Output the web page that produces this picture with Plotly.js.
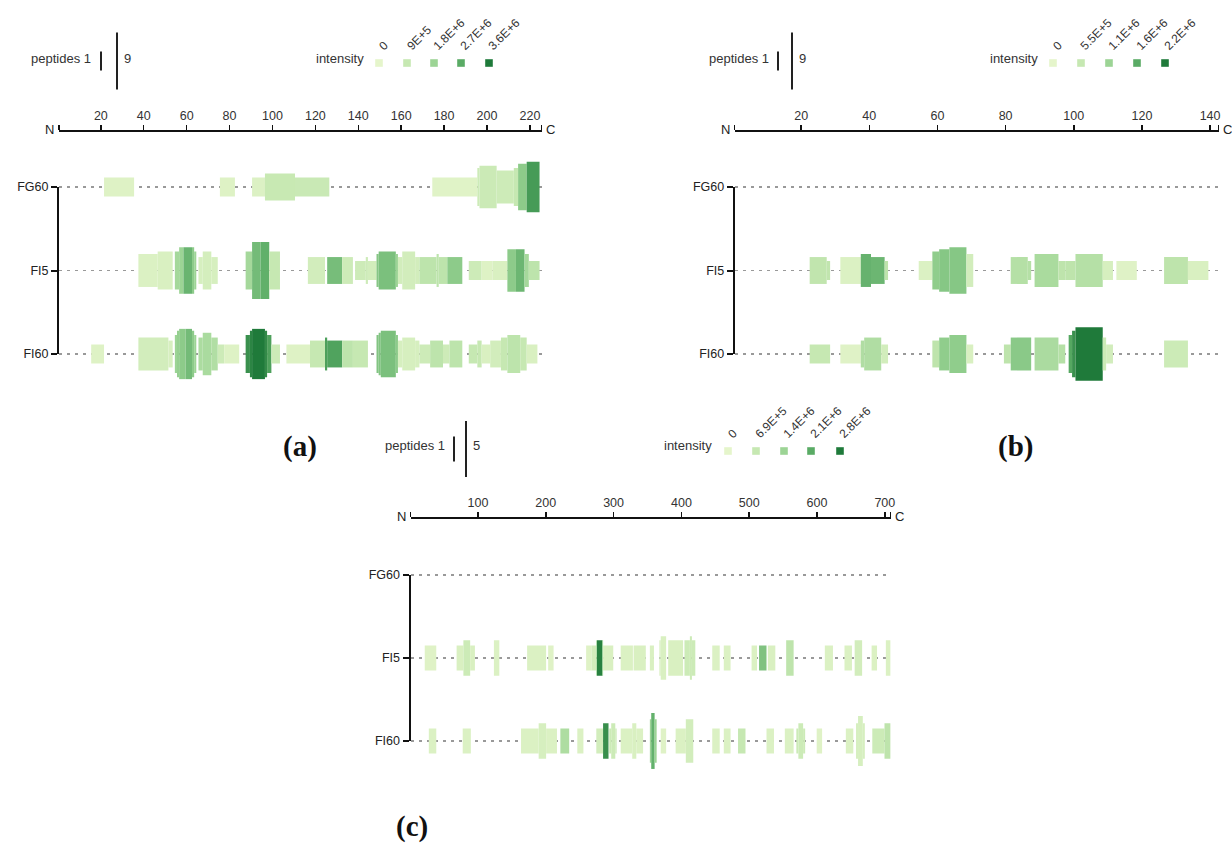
<!DOCTYPE html>
<html><head><meta charset="utf-8">
<script src="https://cdn.plot.ly/plotly-3.0.1.min.js"></script>
<style>html,body{margin:0;padding:0;background:#fff}</style>
</head><body><div id="chart" style="width:1232px;height:843px"></div>
<script>
// ---------------- DATA ----------------
const rows = ['FG60', 'FI5', 'FI60'];

// Panel (a)
const lenA = 225;
const ticksA = [20, 40, 60, 80, 100, 120, 140, 160, 180, 200, 220];
const pepA = [1, 9];
const intValsA = [0, 9e5, 1.8e6, 2.7e6, 3.6e6];
const intLabelsA = ['0', '9E+5', '1.8E+6', '2.7E+6', '3.6E+6'];
// segments: [start residue, end residue, peptides, intensity]
const a_FG60 = [
  [22,35,1,0.2e6],[76,82,1,0.2e6],[91,96,1,0.25e6],[97,110,2,0.85e6],[111,126,1,0.8e6],
  [175,195,1,0.15e6],[196,196,4,0.7e6],[197,204,5,0.75e6],[205,212,3,0.7e6],[213,214,4,0.9e6],
  [215,218,6,2.0e6],[219,224,7,3.0e6]
];
const a_FI5 = [
  [38,46,3,0.3e6],[47,53,4,0.35e6],[55,56,4,1.6e6],[57,58,6,1.8e6],[59,62,6,2.5e6],[63,63,6,2.0e6],
  [64,64,4,1.8e6],[66,67,2,0.45e6],[68,71,4,0.5e6],[72,74,2,0.45e6],[88,90,4,1.6e6],[91,94,9,2.35e6],
  [95,98,9,2.6e6],[99,103,4,0.9e6],[117,124,2,0.55e6],[126,132,2,2.3e6],[133,137,2,0.7e6],
  [139,143,1,0.7e6],[144,144,2,0.7e6],[145,148,1,0.55e6],[149,149,3,2.1e6],[150,157,4,2.25e6],
  [158,158,3,1.8e6],[159,160,2,0.55e6],[161,166,4,0.55e6],[167,168,2,0.55e6],[169,176,2,1.1e6],
  [177,177,3,1.1e6],[178,181,2,1.1e6],[182,188,2,2.0e6],[192,197,1,0.7e6],[198,202,1,0.2e6],
  [203,209,1,0.35e6],[210,213,5,2.0e6],[214,217,5,2.45e6],[218,219,3,1.6e6],[220,224,1,1.1e6]
];
const a_FI60 = [
  [16,21,1,0.2e6],[38,51,3,0.55e6],[52,53,2,0.4e6],[55,55,4,1.8e6],[56,56,6,1.9e6],[57,59,7,2.0e6],
  [60,62,7,2.35e6],[63,63,6,2.0e6],[64,64,4,1.8e6],[66,67,3,1.45e6],[68,71,5,1.5e6],[72,74,3,1.35e6],
  [75,77,1,0.7e6],[78,84,1,0.2e6],[88,89,4,3.2e6],[90,90,6,3.4e6],[91,96,7,3.6e6],[97,97,6,3.3e6],
  [98,99,4,2.9e6],[100,103,1,0.7e6],[107,117,1,0.2e6],[118,124,2,0.9e6],[125,125,3,2.9e6],
  [126,132,2,2.85e6],[133,137,2,1.1e6],[138,144,2,0.9e6],[149,149,4,2.15e6],[150,150,5,2.15e6],
  [151,157,6,2.25e6],[158,158,4,2.0e6],[159,160,2,0.45e6],[161,166,3,0.45e6],[167,168,2,0.45e6],
  [169,173,1,0.7e6],[174,179,2,1.1e6],[180,182,1,0.7e6],[183,188,2,1.1e6],[192,195,1,0.9e6],
  [196,197,2,0.9e6],[198,201,1,0.35e6],[202,206,2,0.55e6],[207,209,3,0.9e6],[210,215,4,1.1e6],
  [216,218,3,0.9e6],[219,223,1,0.35e6]
];

// Panel (b)
const lenB = 142;
const ticksB = [20, 40, 60, 80, 100, 120, 140];
const pepB = [1, 9];
const intValsB = [0, 5.5e5, 1.1e6, 1.6e6, 2.2e6];
const intLabelsB = ['0', '5.5E+5', '1.1E+6', '1.6E+6', '2.2E+6'];
const b_FG60 = [];
const b_FI5 = [
  [23,27,2,0.62e6],[28,28,1,0.62e6],[32,37,2,0.18e6],[38,40,3,1.55e6],[41,44,2,1.5e6],[45,45,1,0.66e6],
  [55,58,1,0.18e6],[59,60,4,1.2e6],[61,63,5,1.28e6],[64,68,6,1.28e6],[69,70,3,0.33e6],
  [82,86,2,0.77e6],[87,87,1,0.77e6],[89,95,3,0.92e6],[96,97,1,0.66e6],[98,100,1,0.66e6],
  [101,108,3,0.77e6],[109,111,1,0.26e6],[113,118,1,0.11e6],[127,133,2,0.66e6],[134,139,1,0.22e6]
];
const b_FI60 = [
  [23,28,1,0.55e6],[32,37,1,0.11e6],[38,38,2,0.84e6],[39,43,3,0.84e6],[44,45,1,0.33e6],
  [59,60,2,0.66e6],[61,63,3,1.2e6],[64,68,4,1.2e6],[69,70,1,0.22e6],[80,81,1,0.66e6],
  [82,87,3,1.25e6],[89,95,3,0.9e6],[96,97,1,0.77e6],[99,99,4,1.7e6],[100,100,6,1.95e6],
  [101,108,8,2.2e6],[109,109,3,0.44e6],[110,111,1,0.33e6],[127,133,2,0.44e6]
];

// Panel (c)
const lenC = 708;
const ticksC = [100, 200, 300, 400, 500, 600, 700];
const pepC = [1, 5];
const intValsC = [0, 6.9e5, 1.4e6, 2.1e6, 2.8e6];
const intLabelsC = ['0', '6.9E+5', '1.4E+6', '2.1E+6', '2.8E+6'];
const c_FG60 = [];
const c_FI5 = [
  [22,38,1,0.14e6],[69,78,1,0.28e6],[79,88,2,0.56e6],[89,95,1,0.28e6],[124,131,2,0.22e6],
  [173,200,1,0.22e6],[204,211,1,0.14e6],[260,267,1,0.14e6],[268,274,1,0.42e6],[275,275,2,1.4e6],
  [276,283,2,2.7e6],[284,284,2,1.4e6],[285,299,1,0.28e6],[311,328,1,0.22e6],[330,347,1,0.28e6],
  [354,359,1,0.28e6],[368,369,2,0.28e6],[370,377,3,0.28e6],[381,402,2,0.28e6],[405,412,2,0.56e6],
  [413,415,3,0.56e6],[416,420,2,0.56e6],[446,456,1,0.22e6],[463,472,1,0.22e6],[504,511,1,0.22e6],
  [515,525,1,1.7e6],[528,538,1,0.28e6],[555,565,2,0.84e6],[612,623,1,0.22e6],[641,651,1,0.22e6],
  [656,666,2,0.42e6],[681,688,1,0.22e6],[702,708,2,0.22e6]
];
const c_FI60 = [
  [28,38,1,0.22e6],[78,89,1,0.22e6],[164,189,1,0.22e6],[190,200,2,0.34e6],[201,216,1,0.22e6],
  [222,234,1,1.1e6],[247,255,1,0.22e6],[275,284,1,0.42e6],[285,292,2,2.5e6],[294,296,1,0.56e6],
  [297,302,2,0.56e6],[303,304,1,0.56e6],[311,327,1,0.22e6],[328,333,2,0.28e6],[334,343,1,0.22e6],
  [354,355,3,1.4e6],[356,360,5,2.0e6],[361,363,3,1.4e6],[370,377,1,0.14e6],[392,406,1,0.22e6],
  [407,417,3,0.42e6],[446,456,1,0.22e6],[463,472,1,0.22e6],[484,494,1,0.7e6],[526,536,1,0.22e6],
  [553,565,1,0.22e6],[570,572,1,0.56e6],[573,579,2,0.56e6],[580,582,1,0.56e6],[600,607,1,0.14e6],
  [643,653,1,0.22e6],[658,660,2,0.34e6],[661,667,4,0.34e6],[668,670,2,0.34e6],[682,699,1,0.56e6],
  [700,708,2,0.84e6]
];

// ---------------- STYLE / LAYOUT ----------------
const W = 1232, H = 843;
const FONT = 'Liberation Sans, Arial, sans-serif';
const colorscale = [[0,'#e5f5cb'],[0.25,'#c6e8b2'],[0.5,'#9cd495'],[0.75,'#5aab65'],[1,'#1f7a3a']];
const P = x => x / W, Q = y => 1 - y / H;

const panels = [
  {label:'(a)', len:lenA, ticks:ticksA, pep:pepA, iv:intValsA, il:intLabelsA, data:[a_FG60,a_FI5,a_FI60],
   x0:59.0, x1:541.7, axisY:130, rowTop:187, rowBot:354, k:19,
   pepRight:93, pepBars:[101,117], pepY:61, intRight:366, intY:58, swX:[379,407,434,461,489], swY:63, lab:[300,447]},
  {label:'(b)', len:lenB, ticks:ticksB, pep:pepB, iv:intValsB, il:intLabelsB, data:[b_FG60,b_FI5,b_FI60],
   x0:734.7, x1:1218.6, axisY:130, rowTop:187, rowBot:354, k:19,
   pepRight:771, pepBars:[778,792], pepY:61, intRight:1040, intY:58, swX:[1053,1081,1109,1137,1165], swY:63, lab:[1015,447]},
  {label:'(c)', len:lenC, ticks:ticksC, pep:pepC, iv:intValsC, il:intLabelsC, data:[c_FG60,c_FI5,c_FI60],
   x0:410.5, x1:890.6, axisY:517, rowTop:575, rowBot:741, k:25,
   pepRight:447, pepBars:[454,466], pepY:449, intRight:714, intY:446, swX:[728,756,784,811,840], swY:451, lab:[412,826]}
];

const traces = [], shapes = [], annotations = [];
const layout = {
  width: W, height: H, margin: {l:0, r:0, t:0, b:0},
  paper_bgcolor: '#ffffff', plot_bgcolor: 'rgba(0,0,0,0)',
  showlegend: false, barmode: 'overlay', font: {family: FONT, size: 12, color: '#333'},
  shapes, annotations
};

panels.forEach((p, i) => {
  const xn = i + 1, yb = 2 * i + 1, yr = 2 * i + 2;
  const xid = xn === 1 ? 'x' : 'x' + xn;
  const ybid = 'y' + (yb === 1 ? '' : yb), yrid = 'y' + yr;
  const sp = (p.rowBot - p.rowTop) / 2;      // px per row unit
  const ext = 48;                              // px margin around rows for bars
  const rowPos = [2, 1, 0];
  const hUnits = n => p.k * Math.sqrt(n) / sp;

  layout['xaxis' + (xn === 1 ? '' : xn)] = {
    domain: [P(p.x0), P(p.x1)], range: [0.5, p.len + 0.5], anchor: 'free', position: Q(p.axisY),
    side: 'top', showline: true, linecolor: '#111', linewidth: 1.5,
    ticks: 'outside', ticklen: 5, tickwidth: 1.5, tickcolor: '#111',
    tickmode: 'array', tickvals: [0.5].concat(p.ticks, [p.len + 0.5]),
    ticktext: [''].concat(p.ticks.map(String), ['']),
    tickfont: {size: 12.5, color: '#333', family: FONT}, showgrid: false, zeroline: false, fixedrange: true
  };
  layout['yaxis' + (yb === 1 ? '' : yb)] = {
    domain: [Q(p.rowBot), Q(p.rowTop)], range: [0, 2], anchor: xid, side: 'left',
    showline: true, linecolor: '#111', linewidth: 2, ticks: 'outside', ticklen: 6, tickwidth: 2,
    tickcolor: '#111', tickmode: 'array', tickvals: rowPos, ticktext: rows,
    tickfont: {size: 12.5, color: '#222', family: FONT}, showgrid: false, zeroline: false, fixedrange: true
  };
  layout['yaxis' + yr] = {
    domain: [Q(p.rowBot + ext), Q(p.rowTop - ext)], range: [-ext / sp, 2 + ext / sp], anchor: xid,
    showline: false, ticks: '', showticklabels: false, tickmode: 'array', tickvals: rowPos,
    showgrid: true, gridcolor: '#999999', gridwidth: 1.6, griddash: '3px,5px', zeroline: false, fixedrange: true
  };
  // dummy to register bracket subplot
  traces.push({type: 'scatter', x: [], y: [], xaxis: xid, yaxis: ybid, hoverinfo: 'skip'});

  p.data.forEach((segs, r) => {
    const x = [], w = [], h = [], base = [], c = [], txt = [];
    segs.forEach(([s, e, n, v]) => {
      x.push((s + e) / 2); w.push(e - s + 1);
      const hh = hUnits(n); h.push(hh); base.push(rowPos[r] - hh / 2); c.push(v);
      txt.push(rows[r] + ' ' + s + '-' + e + ': ' + n + ' peptides, ' + v.toExponential(1));
    });
    traces.push({
      type: 'bar', x, y: h, base, width: w, xaxis: xid, yaxis: yrid,
      marker: {color: c, colorscale, cmin: 0, cmax: p.iv[p.iv.length - 1], line: {width: 0}},
      text: txt, textposition: 'none', hoverinfo: 'text'
    });
  });

  // N / C labels
  annotations.push({xref:'paper', yref:'paper', x:P(p.x0 - 3), y:Q(p.axisY - 1), text:'N', showarrow:false,
    xanchor:'right', yanchor:'middle', font:{size:13, color:'#222', family:FONT}});
  annotations.push({xref:'paper', yref:'paper', x:P(p.x1 + 2), y:Q(p.axisY - 1), text:'C', showarrow:false,
    xanchor:'left', yanchor:'middle', font:{size:13, color:'#222', family:FONT}});

  // peptides legend
  annotations.push({xref:'paper', yref:'paper', x:P(p.pepRight), y:Q(p.pepY - 3), text:'peptides ' + p.pep[0],
    showarrow:false, xanchor:'right', yanchor:'middle', font:{size:13, color:'#333', family:FONT}});
  p.pep.forEach((n, j) => {
    const hp = p.k * Math.sqrt(n);
    shapes.push({type:'line', xref:'paper', yref:'paper', x0:P(p.pepBars[j]), x1:P(p.pepBars[j]),
      y0:Q(p.pepY + hp / 2), y1:Q(p.pepY - hp / 2), line:{color:'#222', width:2}});
  });
  annotations.push({xref:'paper', yref:'paper', x:P(p.pepBars[1] + 5), y:Q(p.pepY - 3), text:String(p.pep[1]),
    showarrow:false, xanchor:'left', yanchor:'middle', font:{size:13, color:'#333', family:FONT}});

  // intensity legend
  annotations.push({xref:'paper', yref:'paper', x:P(p.intRight), y:Q(p.intY), text:'intensity',
    showarrow:false, xanchor:'right', yanchor:'middle', font:{size:13, color:'#333', family:FONT}});
  p.iv.forEach((v, j) => {
    const sx = p.swX[j], s = 3.8;
    shapes.push({type:'rect', xref:'paper', yref:'paper', x0:P(sx - s), x1:P(sx + s), y0:Q(p.swY + s), y1:Q(p.swY - s),
      fillcolor: colorscale[j][1], line:{width:0}});
    annotations.push({xref:'paper', yref:'paper', x:P(sx - 6), y:Q(p.swY - 7), text:p.il[j], showarrow:false,
      textangle:-45, xanchor:'left', yanchor:'bottom', font:{size:12, color:'#333', family:FONT}});
  });

  // panel label
  annotations.push({xref:'paper', yref:'paper', x:P(p.lab[0]), y:Q(p.lab[1]), text:'<b>' + p.label + '</b>',
    showarrow:false, xanchor:'center', yanchor:'middle', font:{size:29, color:'#111', family:'Liberation Serif, Times New Roman, serif'}});
});

Plotly.newPlot('chart', traces, layout, {displayModeBar: false, staticPlot: true});
</script></body></html>
